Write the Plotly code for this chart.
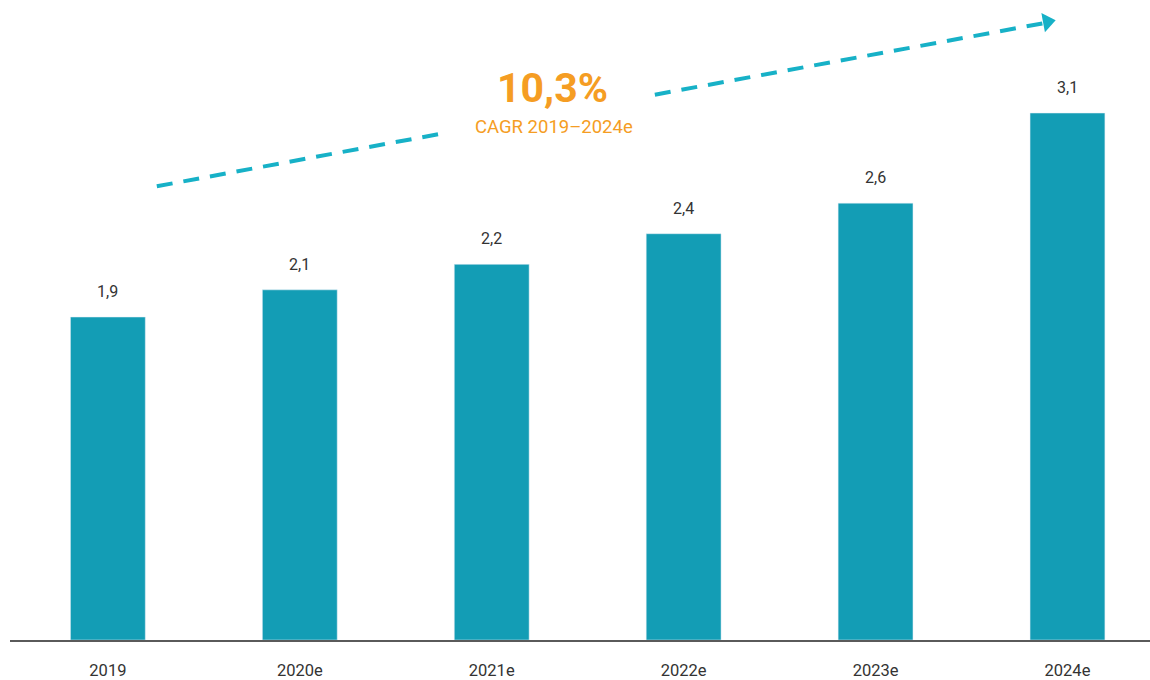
import plotly.graph_objects as go

years = ["2019", "2020e", "2021e", "2022e", "2023e", "2024e"]
values = [1.90, 2.06, 2.21, 2.39, 2.57, 3.10]
value_labels = ["1,9", "2,1", "2,2", "2,4", "2,6", "3,1"]
cagr_text = "10,3%"
cagr_sub = "CAGR 2019–2024e"

BAR = "#139db5"
ARROW = "#17b1c7"
ORANGE = "#f59d23"

fig = go.Figure()
fig.add_trace(go.Bar(x=list(range(len(years))), y=values, marker_color=BAR,
                     width=0.39, hoverinfo="skip"))

# dashed trend arrow (data coordinates), broken around the CAGR label
seg1_x, seg1_y = [0.255, 1.767], [2.669, 2.985]
seg2_x, seg2_y = [2.850, 4.883], [3.208, 3.630]
for sx, sy in [(seg1_x, seg1_y), (seg2_x, seg2_y)]:
    fig.add_trace(go.Scatter(x=sx, y=sy, mode="lines", cliponaxis=False,
                             line=dict(color=ARROW, width=4, dash="16px,11px"),
                             hoverinfo="skip"))
fig.add_trace(go.Scatter(x=[4.895], y=[3.637], mode="markers", cliponaxis=False,
                         marker=dict(symbol="triangle-right", size=17, color=ARROW, angle=-10.5),
                         hoverinfo="skip"))

for i, (v, t) in enumerate(zip(values, value_labels)):
    fig.add_annotation(x=i, y=v, text=t, showarrow=False, yanchor="bottom", yshift=14,
                       font=dict(family="Roboto", size=16, color="#333333"))

fig.add_annotation(x=2.319, y=3.249, text="<b>" + cagr_text + "</b>", showarrow=False,
                   font=dict(family="Roboto", size=41, color=ORANGE))
fig.add_annotation(x=2.325, y=3.015, text=cagr_sub, showarrow=False,
                   font=dict(family="Roboto", size=18.5, color=ORANGE))

fig.update_layout(
    width=1150, height=680,
    margin=dict(l=10, r=0, t=0, b=38),
    paper_bgcolor="white", plot_bgcolor="white",
    showlegend=False,
    xaxis=dict(range=[-0.51, 5.43], tickmode="array", tickvals=list(range(len(years))),
               ticktext=years, showgrid=False, zeroline=False,
               showline=True, linecolor="#5a5a5a", linewidth=2,
               ticks="outside", ticklen=14, tickcolor="rgba(0,0,0,0)",
               tickfont=dict(family="Roboto", size=16.5, color="#333333")),
    yaxis=dict(range=[0, 3.765], visible=False, showgrid=False, zeroline=False),
)

fig.write_html("out.html", config={"displayModeBar": False},
               post_script="document.body.style.margin='0';document.body.style.overflow='hidden';")
